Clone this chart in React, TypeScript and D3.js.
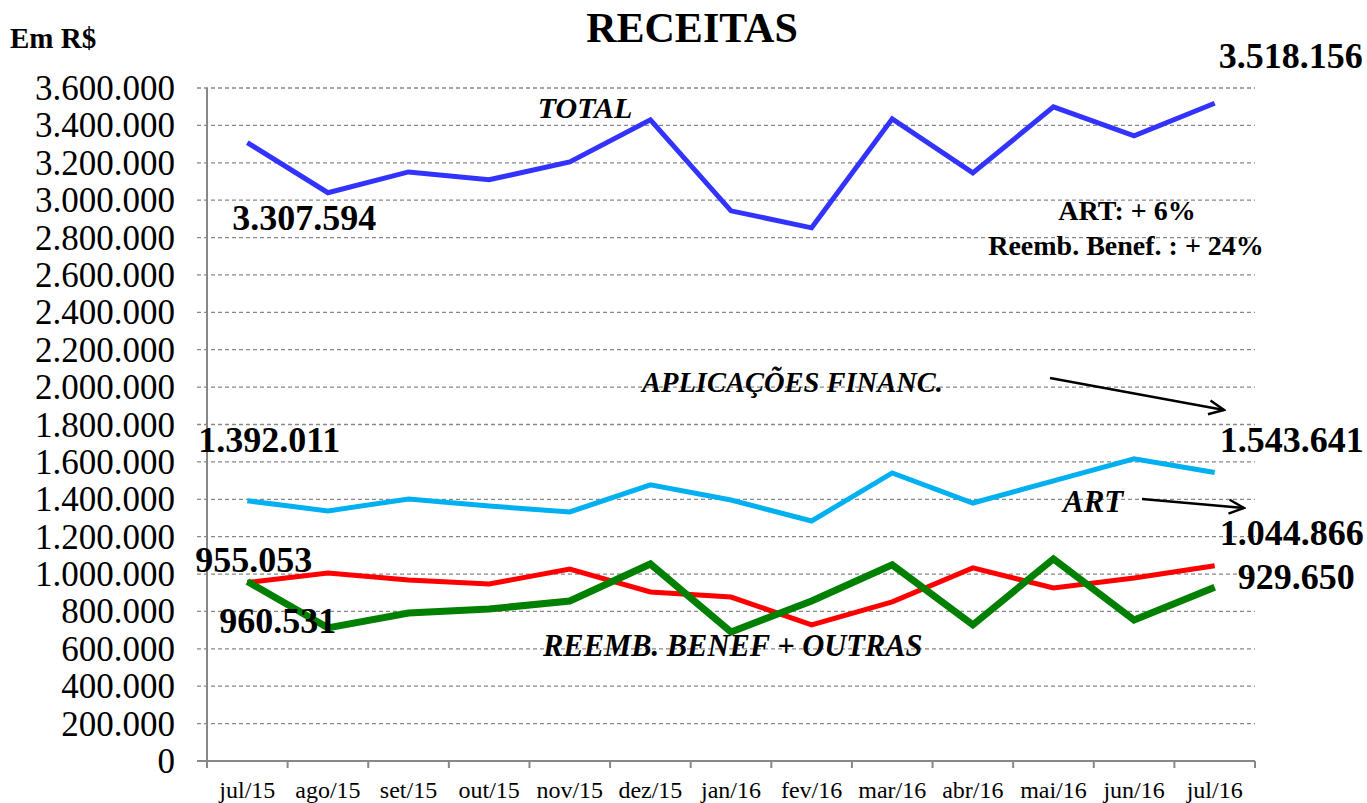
import * as d3 from 'd3';
import React from 'react';

const months = ['jul/15', 'ago/15', 'set/15', 'out/15', 'nov/15', 'dez/15', 'jan/16', 'fev/16', 'mar/16', 'abr/16', 'mai/16', 'jun/16', 'jul/16'];
const total = [3307594, 3040000, 3151000, 3109000, 3205000, 3430000, 2943000, 2852000, 3435000, 3146000, 3499000, 3344000, 3518156];
const aplicacoes = [1392011, 1338000, 1402000, 1364000, 1332000, 1477000, 1396000, 1284000, 1541000, 1380000, 1498000, 1616000, 1543641];
const art = [955053, 1006000, 968000, 947000, 1027000, 904000, 877000, 728000, 851000, 1033000, 926000, 979000, 1044866];
const reemb = [960531, 712000, 792000, 813000, 856000, 1054000, 690000, 856000, 1049000, 728000, 1081000, 754000, 929650];
const yTicks = d3.range(0, 3600001, 200000);

const W = 1367, H = 803;
const left = 207, right = 1255, top = 88, bottom = 761;
const font = '"Liberation Serif", "Times New Roman", serif';

const fmt = (v: number) => v === 0 ? '0' : d3.format(',')(v).replace(/,/g, '.');

export default function App() {
    const x = d3.scaleBand().domain(months).range([left, right]);
    const cx = (i: number) => x(months[i])! + x.bandwidth() / 2;
    const y = d3.scaleLinear().domain([0, 3600000]).range([bottom, top]);
    const line = (vals: number[]) => d3.line<number>().x((d, i) => cx(i)).y(d => y(d))(vals) || '';
    const last = months.length - 1;

    const series = [
        { vals: total, color: '#3333FF', w: 5 },
        { vals: aplicacoes, color: '#00B0F0', w: 5 },
        { vals: art, color: '#FF0000', w: 5 },
        { vals: reemb, color: '#008000', w: 7 },
    ];

    return (
        <svg width={W} height={H} style={{ position: 'absolute', left: 0, top: 0, fontFamily: font }}>
            <defs>
                <marker id="arr" viewBox="0 0 20 20" refX="18" refY="10" markerWidth="20" markerHeight="20" markerUnits="userSpaceOnUse" orient="auto">
                    <path d="M3,3 L18,10 L3,17" fill="none" stroke="#000" strokeWidth="2.5" />
                </marker>
            </defs>
            <rect width={W} height={H} fill="#fff" />
            <text x={692} y={42} textAnchor="middle" fontSize={42} fontWeight="bold">RECEITAS</text>
            <text x={10} y={48} fontSize={29} fontWeight="bold">Em R$</text>

            {yTicks.map(t => (
                <g key={t}>
                    {t > 0 && <line x1={left - 10} x2={right} y1={y(t)} y2={y(t)} stroke="#888" strokeWidth={1.3} strokeDasharray="4,3" />}
                    <text x={175} y={y(t) + 12} textAnchor="end" fontSize={35}>{fmt(t)}</text>
                </g>
            ))}
            <line x1={left} x2={left} y1={top} y2={bottom} stroke="#888" strokeWidth={2} />
            <line x1={left - 10} x2={right} y1={bottom} y2={bottom} stroke="#888" strokeWidth={2} />
            {months.map((m, i) => (
                <line key={'t' + m} x1={x(m)!} x2={x(m)!} y1={bottom} y2={bottom + 7} stroke="#888" strokeWidth={2} />
            ))}
            <line x1={right} x2={right} y1={bottom} y2={bottom + 7} stroke="#888" strokeWidth={2} />
            {months.map((m, i) => (
                <text key={m} x={cx(i)} y={798} textAnchor="middle" fontSize={24}>{m}</text>
            ))}

            {series.map((s, k) => (
                <path key={k} d={line(s.vals)} fill="none" stroke={s.color} strokeWidth={s.w} strokeLinejoin="miter" />
            ))}

            <g fontWeight="bold" fontSize={36}>
                <text x={cx(last) + 4} y={68}>{fmt(total[last])}</text>
                <text x={cx(0) - 15} y={230}>{fmt(total[0])}</text>
                <text x={cx(0) - 49} y={452}>{fmt(aplicacoes[0])}</text>
                <text x={cx(last) + 5} y={452}>{fmt(aplicacoes[last])}</text>
                <text x={cx(last) + 5} y={545}>{fmt(art[last])}</text>
                <text x={cx(0) - 52} y={572}>{fmt(art[0])}</text>
                <text x={cx(0) - 28} y={633}>{fmt(reemb[0])}</text>
                <text x={cx(last) + 23} y={589}>{fmt(reemb[last])}</text>
            </g>

            <g fontWeight="bold" fontStyle="italic" fontSize={30}>
                <text x={585} y={118} textAnchor="middle">TOTAL</text>
                <text x={642} y={392} fontSize={28.5}>APLICAÇÕES FINANC.</text>
                <text x={1063} y={512} fontSize={31}>ART</text>
                <text x={543} y={656} fontSize={30.5}>REEMB. BENEF + OUTRAS</text>
            </g>
            <line x1={1050} y1={378} x2={1224} y2={410} stroke="#000" strokeWidth={2.5} markerEnd="url(#arr)" />
            <line x1={1142} y1={499} x2={1244} y2={508} stroke="#000" strokeWidth={2.5} markerEnd="url(#arr)" />

            <g fontWeight="bold" fontSize={28} textAnchor="middle">
                <text x={1127} y={220}>ART: + 6%</text>
                <text x={1126} y={255}>Reemb. Benef. : + 24%</text>
            </g>
        </svg>
    );
}
